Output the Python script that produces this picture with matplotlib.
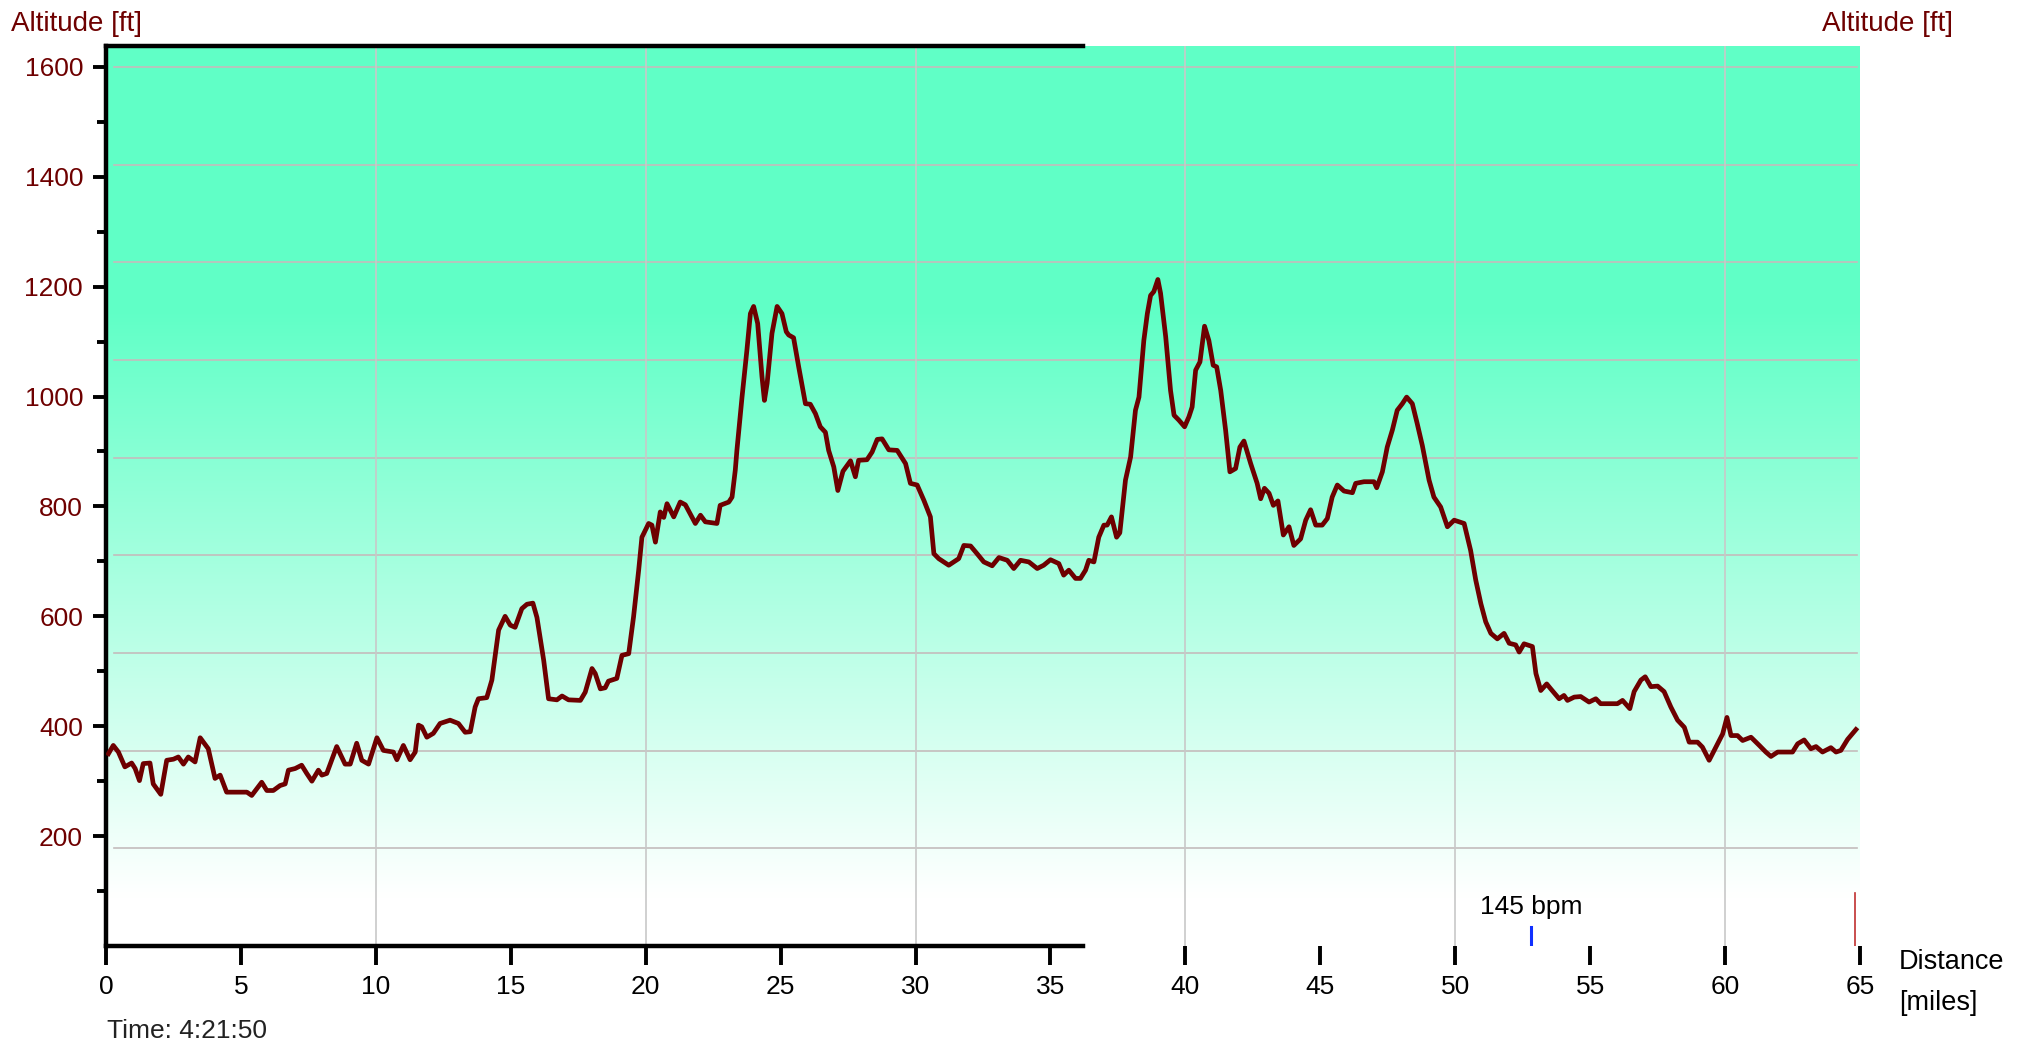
import numpy as np
import matplotlib
matplotlib.use("Agg")
import matplotlib.pyplot as plt

plt.rcParams['font.family'] = ['Liberation Sans', 'DejaVu Sans']

# altitude profile: distance [miles] / altitude [ft]
miles = [
    0.09, 0.27, 0.46, 0.70, 0.95, 1.08, 1.24, 1.38, 1.63, 1.75, 2.03, 2.25, 2.50, 2.68,
    2.87, 3.05, 3.30, 3.49, 3.79, 4.04, 4.23, 4.47, 5.22, 5.40, 5.77, 5.96, 6.20, 6.45,
    6.64, 6.76, 7.01, 7.25, 7.44, 7.63, 7.87, 8.00, 8.18, 8.55, 8.86, 9.05, 9.29, 9.48,
    9.73, 10.04, 10.28, 10.65, 10.78, 11.02, 11.27, 11.46,
    11.58, 11.70, 11.89, 12.13, 12.38, 12.75, 13.06, 13.31, 13.50, 13.68, 13.80, 14.11,
    14.30, 14.55, 14.79, 14.98, 15.16, 15.41, 15.60, 15.82, 15.97, 16.22, 16.40, 16.71,
    16.90, 17.14, 17.58, 17.76, 18.01, 18.13, 18.32, 18.50, 18.62, 18.93, 19.12, 19.37,
    19.55, 19.74, 19.86, 20.11, 20.23, 20.36, 20.54, 20.67, 20.79, 21.04, 21.28, 21.47,
    21.84, 22.03, 22.21,
    22.64, 22.76, 23.08, 23.20, 23.32, 23.38, 23.57, 23.75, 23.88, 24.00, 24.15, 24.31,
    24.40, 24.50, 24.68, 24.87, 25.05, 25.21, 25.30, 25.48, 25.67, 25.92, 26.10, 26.29,
    26.47, 26.66, 26.78, 26.97, 27.12, 27.31, 27.59, 27.77, 27.89, 28.20, 28.39, 28.58,
    28.76, 29.01, 29.32, 29.63, 29.81, 30.06, 30.31, 30.55, 30.68, 30.86, 31.23, 31.60,
    31.79, 32.04, 32.28, 32.53, 32.84, 33.09, 33.40, 33.64, 33.89, 34.20, 34.51, 34.75,
    35.00, 35.31, 35.49, 35.68, 35.93, 36.11,
    36.30, 36.42, 36.61, 36.79, 36.98, 37.10, 37.26, 37.45, 37.57, 37.78, 37.97, 38.15,
    38.28, 38.46, 38.59, 38.71, 38.83, 38.98, 39.08, 39.27, 39.45, 39.58, 39.76, 39.97,
    40.13, 40.25, 40.38, 40.54, 40.71, 40.87, 41.03, 41.16, 41.31, 41.49, 41.65, 41.86,
    42.02, 42.17, 42.42, 42.66, 42.79, 42.93, 43.10, 43.26, 43.43, 43.63, 43.84, 44.02,
    44.27, 44.46, 44.64, 44.83, 45.07, 45.26, 45.44, 45.63, 45.88, 46.19, 46.31, 46.62,
    46.99, 47.09, 47.30, 47.48, 47.67, 47.85, 48.04, 48.20, 48.41, 48.59, 48.78, 49.03,
    49.21,
    49.46, 49.71, 49.96, 50.33, 50.57, 50.76, 50.95, 51.13, 51.32, 51.56, 51.81, 52.00,
    52.24, 52.37, 52.55, 52.86, 52.99, 53.17, 53.39, 53.54, 53.85, 54.03, 54.16, 54.41,
    54.65, 54.96, 55.21, 55.39, 56.01, 56.20, 56.47, 56.63, 56.88, 57.04, 57.25, 57.50,
    57.74, 57.99, 58.24, 58.49, 58.67, 58.98, 59.16, 59.41, 59.72, 59.91, 60.07, 60.22,
    60.46, 60.65, 60.96, 61.27, 61.51, 61.70, 61.95, 62.50, 62.69, 62.93, 63.18, 63.37,
    63.61, 63.92, 64.11, 64.29, 64.54, 64.85,
]
altitude = [
    350, 365, 353, 326, 333, 323, 301, 332, 333, 295, 276, 338, 340, 344,
    331, 344, 335, 379, 359, 305, 311, 280, 280, 274, 298, 283, 283, 292,
    295, 320, 323, 329, 314, 300, 320, 311, 314, 363, 331, 331, 369, 338,
    331, 379, 356, 353, 339, 365, 339, 353,
    402, 399, 380, 387, 405, 411, 405, 389, 390, 435, 450, 452,
    484, 575, 600, 584, 580, 614, 622, 624, 598, 520, 450, 448,
    455, 448, 447, 462, 505, 496, 468, 470, 482, 487, 529, 532,
    599, 684, 744, 769, 766, 735, 790, 780, 805, 781, 808, 803,
    769, 784, 772,
    769, 802, 808, 817, 866, 902, 999, 1084, 1151, 1164, 1133, 1036,
    993, 1024, 1115, 1164, 1151, 1118, 1112, 1107, 1054, 987, 986, 969,
    945, 935, 902, 872, 829, 864, 883, 854, 884, 885, 899, 922,
    923, 903, 902, 878, 842, 839, 811, 781, 714, 705, 693, 705,
    729, 728, 714, 699, 692, 707, 702, 687, 702, 699, 687, 693,
    703, 696, 675, 684, 669, 669,
    684, 702, 699, 744, 766, 766, 781, 744, 752, 848, 890, 975,
    999, 1102, 1151, 1184, 1191, 1213, 1188, 1109, 1011, 966, 957, 945,
    963, 981, 1048, 1063, 1128, 1102, 1057, 1054, 1011, 939, 863, 869,
    908, 919, 878, 842, 814, 833, 824, 802, 810, 748, 763, 729,
    741, 775, 794, 766, 766, 778, 817, 839, 828, 825, 842, 845,
    845, 834, 863, 908, 939, 975, 987, 999, 987, 951, 911, 848,
    817,
    799, 763, 775, 769, 720, 666, 623, 590, 569, 559, 569, 551,
    548, 535, 550, 545, 496, 465, 477, 468, 450, 456, 447, 453,
    454, 444, 450, 441, 441, 447, 432, 463, 484, 490, 472, 473,
    463, 435, 411, 398, 371, 371, 362, 338, 368, 386, 416, 383,
    383, 374, 380, 365, 353, 345, 353, 353, 368, 375, 359, 363,
    353, 361, 353, 356, 376, 394,
]

x_ticks = list(range(0, 70, 5))
y_ticks = [200, 400, 600, 800, 1000, 1200, 1400, 1600]
y_minor = [100, 300, 500, 700, 900, 1100, 1300, 1500]
grid_x = [10, 20, 30, 40, 50, 60]
grid_y = [k * 1600 / 9 for k in range(1, 10)]

hr_mile = 52.8
hr_label = "145 bpm"
end_mile = 64.8
total_time = "Time: 4:21:50"

x_max = 65
y_max = 1638
dark_red = "#6e0000"

fig = plt.figure(figsize=(20.3, 10.46), dpi=100)
ax = fig.add_axes([106 / 2030, 100 / 1046, 1754 / 2030, 900 / 1046])

# background: white at the bottom fading into aquamarine
h = np.linspace(0, y_max, 400)
t = np.clip((h - 90) / (1150 - 90), 0, 1)
green = np.array([0.38, 1.0, 0.78])
white = np.array([1.0, 1.0, 1.0])
grad = white[None, :] * (1 - t[:, None]) + green[None, :] * t[:, None]
ax.imshow(grad[:, None, :], extent=(0, x_max, 0, y_max), origin="lower",
          aspect="auto", zorder=0, interpolation="bilinear")

for gy in grid_y:
    ax.plot([0.3, x_max - 0.1], [gy, gy], color="#c4bcbc", lw=1.2, zorder=1)
for gx in grid_x:
    ax.plot([gx, gx], [0, y_max], color="#c8c8c8", lw=1.2, zorder=1)

ax.plot(miles, altitude, color=dark_red, lw=3.4, zorder=3, solid_joinstyle="round")

# heart-rate marker and end marker
ax.plot([hr_mile, hr_mile], [4, 34], color="#1030ff", lw=2.2, zorder=3)
ax.text(hr_mile, 50, hr_label, ha="center", va="bottom", fontsize=19, color="black")
ax.plot([end_mile, end_mile], [0, 96], color="#c03030", lw=1.2, zorder=3)

ax.set_xlim(0, x_max)
ax.set_ylim(0, y_max)

ax.spines["right"].set_visible(False)
for side in ["left", "bottom", "top"]:
    ax.spines[side].set_linewidth(3.2)
    ax.spines[side].set_color("black")
ax.spines["bottom"].set_bounds(0, 36.2)
ax.spines["top"].set_bounds(0, 36.2)

ax.set_xticks(x_ticks)
ax.set_xticklabels([str(v) for v in x_ticks])
ax.set_yticks(y_ticks)
ax.set_yticklabels([str(v) for v in y_ticks])
ax.set_yticks(y_minor, minor=True)

ax.tick_params(axis="x", direction="out", length=14, width=2.8, pad=7,
               labelsize=19, colors="black", top=False)
ax.tick_params(axis="y", which="major", direction="out", length=9.5, width=2.8,
               pad=7, labelsize=19, labelcolor=dark_red, colors="black")
ax.tick_params(axis="y", which="minor", direction="out", length=6.5, width=2.8,
               colors="black")

fig.text(11 / 2030, 1 - 31 / 1046, "Altitude [ft]", fontsize=20, color=dark_red,
         ha="left", va="baseline")
fig.text(1953 / 2030, 1 - 31 / 1046, "Altitude [ft]", fontsize=20, color=dark_red,
         ha="right", va="baseline")
fig.text(1899 / 2030, 1 - 962 / 1046, "Distance", fontsize=19.5, color="black",
         ha="left", va="center")
fig.text(1899 / 2030, 1 - 1003 / 1046, "[miles]", fontsize=19.5, color="black",
         ha="left", va="center")
fig.text(107 / 2030, 1 - 1038 / 1046, total_time, fontsize=19, color="#222222",
         ha="left", va="baseline")

fig.savefig("out.png", dpi=100, facecolor="white")
